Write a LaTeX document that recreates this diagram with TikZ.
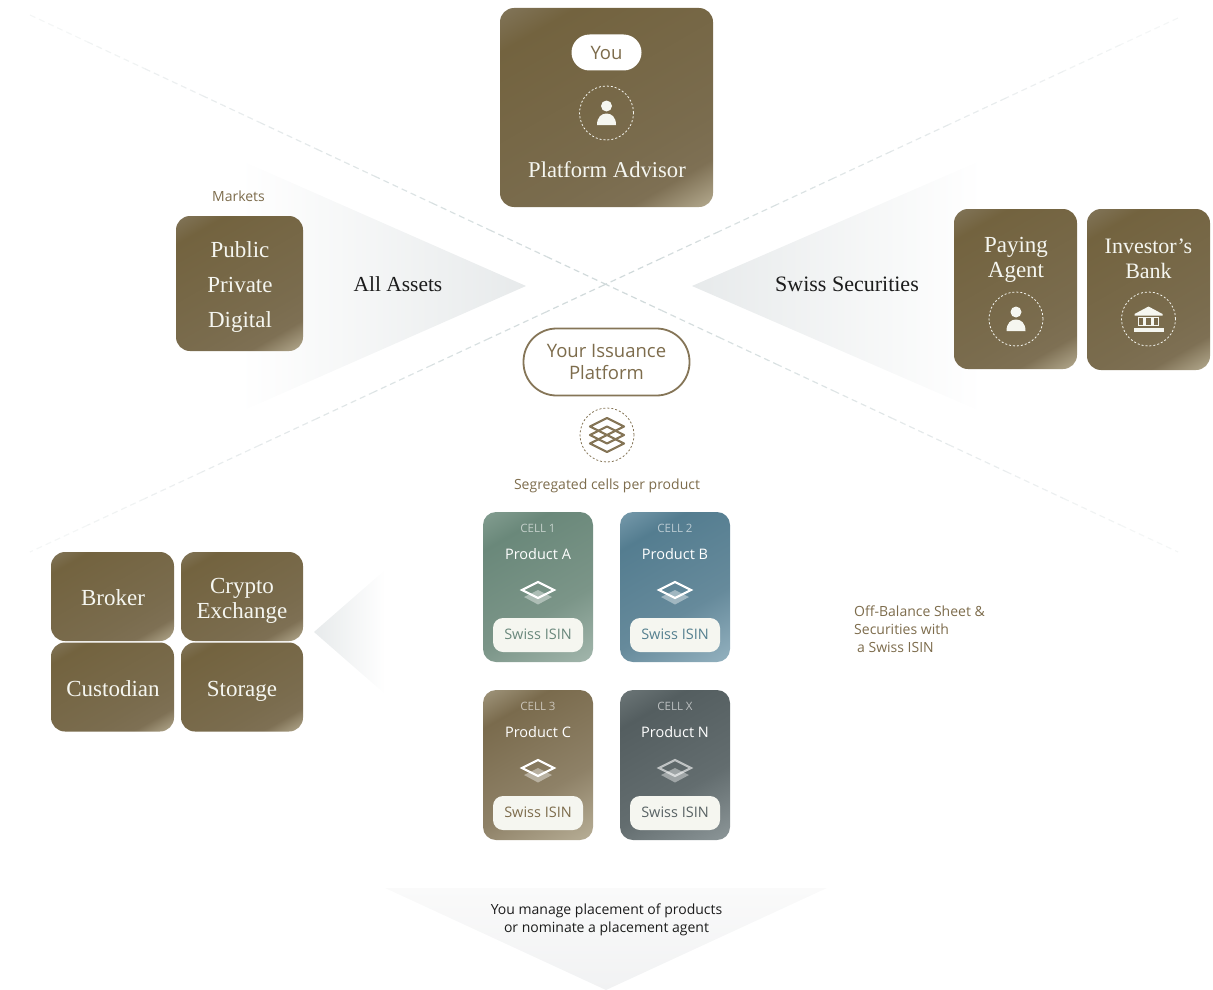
\documentclass[tikz,border=0pt]{standalone}
\usepackage{fontspec}
\setmainfont{Liberation Serif}
\newfontfamily\labelfont{Open Sans}
\usetikzlibrary{positioning,calc}
\definecolor{goldtext}{HTML}{7D6C4C}
\definecolor{goldline}{HTML}{857557}
\definecolor{creamfill}{HTML}{F5F6F0}
\definecolor{dashgrey}{HTML}{CFD8D9}
\definecolor{palegrey}{HTML}{E7EAEB}
\definecolor{softgrey}{HTML}{F1F2F3}
\definecolor{softtop}{HTML}{FAFAFA}
\definecolor{inkblack}{HTML}{1C1C1C}
\definecolor{greentext}{HTML}{6A887C}
\definecolor{bluetext}{HTML}{55808F}
\definecolor{slatetext}{HTML}{596365}
\definecolor{goldA}{HTML}{84785E}
\definecolor{goldB}{HTML}{73633F}
\definecolor{goldC}{HTML}{7A6C4E}
\definecolor{goldD}{HTML}{7E7054}
\definecolor{goldE}{HTML}{B3A98E}
\definecolor{greenA}{HTML}{86A093}
\definecolor{greenB}{HTML}{6A887A}
\definecolor{greenC}{HTML}{7B9588}
\definecolor{greenD}{HTML}{A2B6AC}
\definecolor{blueA}{HTML}{7A9DAE}
\definecolor{blueB}{HTML}{547D90}
\definecolor{blueC}{HTML}{668A9B}
\definecolor{blueD}{HTML}{93B1BF}
\definecolor{tanA}{HTML}{A59B82}
\definecolor{tanB}{HTML}{7A6B4D}
\definecolor{tanC}{HTML}{8E8167}
\definecolor{tanD}{HTML}{B7AE96}
\definecolor{slateA}{HTML}{6F797A}
\definecolor{slateB}{HTML}{545E60}
\definecolor{slateC}{HTML}{636D6F}
\definecolor{slateD}{HTML}{8C9698}
\pgfdeclarehorizontalshading{goldshade}{100bp}{
  color(0bp)=(goldA); color(14bp)=(goldA); color(25bp)=(goldB);
  color(64bp)=(goldC); color(74bp)=(goldD); color(84bp)=(goldE); color(100bp)=(goldE)}
\pgfdeclarehorizontalshading{greenshade}{100bp}{
  color(0bp)=(greenA); color(14bp)=(greenA); color(28bp)=(greenB);
  color(60bp)=(greenC); color(84bp)=(greenD); color(100bp)=(greenD)}
\pgfdeclarehorizontalshading{blueshade}{100bp}{
  color(0bp)=(blueA); color(14bp)=(blueA); color(28bp)=(blueB);
  color(60bp)=(blueC); color(84bp)=(blueD); color(100bp)=(blueD)}
\pgfdeclarehorizontalshading{tanshade}{100bp}{
  color(0bp)=(tanA); color(14bp)=(tanA); color(28bp)=(tanB);
  color(60bp)=(tanC); color(84bp)=(tanD); color(100bp)=(tanD)}
\pgfdeclarehorizontalshading{slateshade}{100bp}{
  color(0bp)=(slateA); color(14bp)=(slateA); color(28bp)=(slateB);
  color(60bp)=(slateC); color(84bp)=(slateD); color(100bp)=(slateD)}
\pgfdeclarehorizontalshading{fadeleft}{100bp}{
  color(0bp)=(palegrey); color(25bp)=(palegrey); color(75bp)=(white); color(100bp)=(white)}
\pgfdeclarehorizontalshading{fadesoft}{100bp}{
  color(0bp)=(softgrey); color(25bp)=(softgrey); color(75bp)=(softtop); color(100bp)=(softtop)}
\tikzset{
  goldcard/.style={shade,shading=goldshade,shading angle=-60,rounded corners=14pt,inner sep=0pt,text=creamfill},
  cellcard/.style={shade,shading angle=-60,rounded corners=13pt,inner sep=0pt,minimum width=110pt,minimum height=150pt},
  serifbig/.style={font=\fontsize{23}{25}\selectfont,text=creamfill,inner sep=0pt,align=center},
  serifblack/.style={text=inkblack,inner sep=0pt},
  dashring/.style={circle,draw,dash pattern=on 2pt off 2pt,line width=.8pt,minimum size=54pt,inner sep=0pt},
  isinpill/.style={fill=creamfill,rounded corners=10pt,minimum width=90pt,minimum height=34pt,inner sep=0pt,text depth=2pt,font=\labelfont\fontsize{14.5}{16}\selectfont},
  celltag/.style={text=white,opacity=.6,inner sep=0pt,font=\labelfont\fontsize{11.5}{13}\selectfont},
  celltitle/.style={text=white,inner sep=0pt,font=\labelfont\fontsize{14.5}{16}\selectfont},
  smalltext/.style={inner sep=0pt,font=\labelfont\fontsize{14}{16}\selectfont},
  crossline/.style={line width=1.2pt,dash pattern=on 6pt off 4pt},
  personicon/.pic={
    \fill[creamfill] (0,-7) circle (5.5);
    \fill[creamfill] (-9.5,12) .. controls (-9.5,4) and (-5,.5) .. (0,.5) .. controls (5,.5) and (9.5,4) .. (9.5,12) -- cycle;
  },
  bankicon/.pic={
    \fill[creamfill] (-14,-5) -- (0,-12.5) -- (14,-5) -- (14,-3.5) -- (-14,-3.5) -- cycle;
    \draw[creamfill,line width=1.3pt] (-10,-1.5) rectangle (-4.5,6.5) (-2.75,-1.5) rectangle (2.75,6.5) (4.5,-1.5) rectangle (10,6.5);
    \fill[creamfill] (-15,9) rectangle (15,12.5);
  },
  stackicon/.pic={
    \draw[goldline,line width=2.2pt,line join=round] (-17,-8.5) -- (0,-17) -- (17,-8.5) -- (0,0) -- cycle;
    \draw[goldline,line width=2.2pt,line join=round] (-17,0) -- (0,-8.5) -- (17,0) -- (0,8.5) -- cycle;
    \draw[goldline,line width=2.2pt,line join=round] (-17,8.5) -- (0,0) -- (17,8.5) -- (0,17) -- cycle;
  },
  cellicon/.pic={
    \fill[white,opacity=.4] (-14,7) -- (0,0) -- (14,7) -- (0,14.5) -- cycle;
    \draw[white,line width=2.2pt,line join=miter] (-16,0) -- (0,-8) -- (16,0) -- (0,8) -- cycle;
  },
}
\begin{document}
\begin{tikzpicture}[x=1pt,y=-1pt]
  \useasboundingbox (0,0) rectangle (1213,990);
  \coordinate (fadeA) at (526,286);
  \coordinate (fadeB) at (240,160);
  \coordinate (fadeC) at (240,412);
  \coordinate (fadeD) at (692,286);
  \coordinate (fadeE) at (982,160);
  \coordinate (fadeF) at (982,412);
  \coordinate (fadeG) at (314,632);
  \coordinate (fadeH) at (385,570);
  \coordinate (fadeI) at (385,694);
  \coordinate (fadeJ) at (606,990);
  \coordinate (fadeK) at (385,888);
  \coordinate (fadeL) at (827,888);
  \shade[shading=fadeleft,shading angle=180] (fadeA) -- (fadeB) -- (fadeC) -- cycle;
  \shade[shading=fadeleft,shading angle=0] (fadeG) -- (fadeH) -- (fadeI) -- cycle;
  \shade[shading=fadeleft,shading angle=0] (fadeD) -- (fadeE) -- (fadeF) -- cycle;
  \shade[shading=fadesoft,shading angle=90] (fadeJ) -- (fadeK) -- (fadeL) -- cycle;
  \coordinate (crossA) at (30,15);
  \coordinate (crossB) at (1178,552);
  \coordinate (crossC) at (1178,18);
  \coordinate (crossD) at (30,552);
  \foreach \t in {0,.05,...,.96} {
    \pgfmathsetmacro\lineshade{100-abs(\t+.025-.5)*160}
    \pgfmathsetmacro\nextt{\t+.05}
    \draw[crossline,dashgrey!\lineshade] ($(crossA)!\t!(crossB)$) -- ($(crossA)!\nextt!(crossB)$);
    \draw[crossline,dashgrey!\lineshade] ($(crossC)!\t!(crossD)$) -- ($(crossC)!\nextt!(crossD)$);
  }

  \node[goldcard,minimum width=213pt,minimum height=199pt] (advisorcard) at (606.5,107.5) {};
  \node[fill=white,rounded corners=18pt,minimum width=70pt,minimum height=36pt,inner sep=0pt,text=goldtext,font=\labelfont\fontsize{18.5}{20}\selectfont] (younode) at (606.5,52.5) {You};
  \node[dashring,creamfill] (advisorring) at (606.5,113) {};
  \pic at (advisorring) {personicon};
  \node[serifbig,font=\fontsize{22.6}{25}\selectfont] (advisortext) at (607,169.5) {Platform Advisor};

  \node[smalltext,text=goldtext] (marketsnode) at (238.5,196) {Markets};
  \node[goldcard,minimum width=127pt,minimum height=135pt] (marketcard) at (239.5,283.5) {};
  \node[serifbig] (publicnode) at (240,249.5) {Public};
  \node[serifbig] (privatenode) at (240,284.5) {Private};
  \node[serifbig] (digitalnode) at (240,322) {Digital};
  \node[serifblack,font=\fontsize{21.4}{25}\selectfont] (assetsnode) at (398,284.5) {All Assets};
  \node[serifblack,font=\fontsize{22}{25}\selectfont] (securitiesnode) at (847,284.5) {Swiss Securities};

  \node[goldcard,minimum width=123pt,minimum height=160pt] (payingcard) at (1015.5,289) {};
  \node[serifbig] (payingnode) at (1016,260) {Paying\\Agent};
  \node[dashring,creamfill] (payingring) at (1016,319) {};
  \pic at (payingring) {personicon};
  \node[goldcard,minimum width=123pt,minimum height=161pt] (bankcard) at (1148.5,289.5) {};
  \node[serifbig,font=\fontsize{22}{25}\selectfont] (banknode) at (1148.5,258.5) {Investor’s\\Bank};
  \node[dashring,creamfill] (bankring) at (1148.5,319) {};
  \pic at (bankring) {bankicon};

  \node[draw=goldline,line width=1.8pt,fill=white,rounded corners=33pt,minimum width=166pt,minimum height=67pt,inner sep=0pt,align=center,text=goldtext,font=\labelfont\fontsize{18.5}{22}\selectfont] (issuancenode) at (606.5,362) {Your Issuance\\Platform};
  \node[dashring,goldline] (stackring) at (607,435) {};
  \pic at (stackring) {stackicon};
  \node[smalltext,text=goldtext] (segregatednode) at (607,485.5) {Segregated cells per product};

  \node[cellcard,shading=greenshade] (cardA) at (538,587) {};
  \node[celltag] (tagA) at (538,528) {CELL 1};
  \node[celltitle] (titleA) at (538,554) {Product A};
  \pic at (538,590) {cellicon};
  \node[isinpill,text=greentext] (isinA) at (538,635) {Swiss ISIN};

  \node[cellcard,shading=blueshade] (cardB) at (675,587) {};
  \node[celltag] (tagB) at (675,528) {CELL 2};
  \node[celltitle] (titleB) at (675,554) {Product B};
  \pic at (675,590) {cellicon};
  \node[isinpill,text=bluetext] (isinB) at (675,635) {Swiss ISIN};

  \node[cellcard,shading=tanshade] (cardC) at (538,765) {};
  \node[celltag] (tagC) at (538,706.5) {CELL 3};
  \node[celltitle] (titleC) at (538,732) {Product C};
  \pic at (538,768) {cellicon};
  \node[isinpill,text=goldtext] (isinC) at (538,813) {Swiss ISIN};

  \node[cellcard,shading=slateshade] (cardX) at (675,765) {};
  \node[celltag] (tagX) at (675,706.5) {CELL X};
  \node[celltitle] (titleX) at (675,732) {Product N};
  \pic[opacity=.6] at (675,768) {cellicon};
  \node[isinpill,text=slatetext] (isinX) at (675,813) {Swiss ISIN};

  \node[goldcard,minimum width=123pt,minimum height=89pt] (brokercard) at (112.5,596.5) {};
  \node[serifbig] (brokernode) at (113,598) {Broker};
  \node[goldcard,minimum width=122pt,minimum height=89pt] (cryptocard) at (242,596.5) {};
  \node[serifbig] (cryptonode) at (242,600.5) {Crypto\\Exchange};
  \node[goldcard,minimum width=123pt,minimum height=89pt] (custodiancard) at (112.5,687) {};
  \node[serifbig] (custodiannode) at (113,688.5) {Custodian};
  \node[goldcard,minimum width=122pt,minimum height=89pt] (storagecard) at (242,687) {};
  \node[serifbig] (storagenode) at (242,691) {Storage};

  \node[smalltext,text=goldtext,align=left,anchor=west,font=\labelfont\fontsize{14}{18}\selectfont] (balancenode) at (854,629) {Off-Balance Sheet \&\\Securities with\\\hspace*{3pt}a Swiss ISIN};
  \node[smalltext,text=inkblack,align=center,font=\labelfont\fontsize{14}{18}\selectfont] (placementnode) at (606.5,920) {You manage placement of products\\or nominate a placement agent};
\end{tikzpicture}
\end{document}
